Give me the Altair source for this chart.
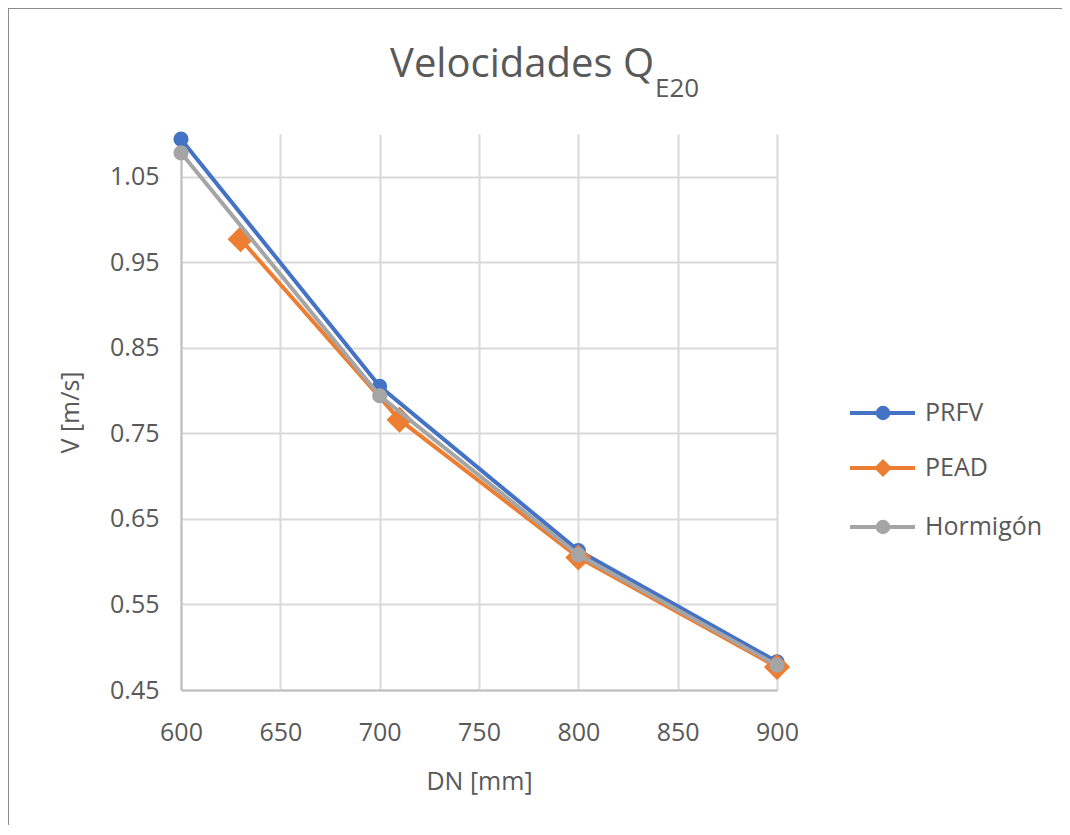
import altair as alt
import pandas as pd

# ---- data ----
series = ["PRFV", "PEAD", "Hormigón"]
colors = ["#4472C4", "#ED7D31", "#A5A5A5"]
shapes = ["circle", "diamond", "circle"]
sizes = [230, 680, 230]
legend_sizes = [210, 320, 210]

dn_prfv = [600, 700, 800, 900]
v_prfv = [1.094, 0.805, 0.613, 0.483]
dn_pead = [630, 710, 800, 900]
v_pead = [0.977, 0.766, 0.605, 0.477]
dn_horm = [600, 700, 800, 900]
v_horm = [1.078, 0.794, 0.608, 0.479]

x_ticks = [600, 650, 700, 750, 800, 850, 900]
y_ticks = [0.45, 0.55, 0.65, 0.75, 0.85, 0.95, 1.05]

title_main = "Velocidades Q"
title_sub = "E20"
x_title = "DN [mm]"
y_title = "V [m/s]"

FONT = "Open Sans"
TXT = "#595959"

frames = {
    "PRFV": pd.DataFrame({"DN": dn_prfv, "V": v_prfv, "serie": "PRFV"}),
    "PEAD": pd.DataFrame({"DN": dn_pead, "V": v_pead, "serie": "PEAD"}),
    "Hormigón": pd.DataFrame({"DN": dn_horm, "V": v_horm, "serie": "Hormigón"}),
}

x_enc = alt.X("DN:Q", scale=alt.Scale(domain=[600, 900], nice=False, zero=False),
              axis=alt.Axis(values=x_ticks, title=x_title, format="d", labelFlush=False,
                            labelPadding=30, titlePadding=24))
y_enc = alt.Y("V:Q", scale=alt.Scale(domain=[0.45, 1.1], nice=False, zero=False),
              axis=alt.Axis(values=y_ticks, title=y_title, format=".2f", labelFlush=False,
                            labelPadding=22, titlePadding=26))

W, H = 596, 556
PL, PT = 173, 126

layers = []
# border around the whole chart area
border_df = pd.DataFrame({"k": [0]})
layers.append(
    alt.Chart(border_df).mark_rect(fill=None, stroke="#8c8c8c", strokeWidth=2).encode(
        x=alt.value(-PL), x2=alt.value(W + 400), y=alt.value(-PT), y2=alt.value(H + 400)
    )
)

for s, c, sh, sz in zip(series, colors, shapes, sizes):
    base = alt.Chart(frames[s]).encode(x=x_enc, y=y_enc)
    layers.append(base.mark_line(color=c, strokeWidth=4))
    layers.append(base.mark_point(color=c, shape=sh, filled=True, size=sz, opacity=1))

# legend (manual, line + marker)
leg_y = [279, 334, 393]
leg_df = pd.DataFrame({"serie": series})
for s, c, sh, sz, yy in zip(series, colors, shapes, legend_sizes, leg_y):
    d = leg_df[leg_df["serie"] == s]
    layers.append(alt.Chart(d).mark_rule(color=c, strokeWidth=4).encode(
        x=alt.value(669), x2=alt.value(734), y=alt.value(yy)))
    layers.append(alt.Chart(d).mark_point(color=c, shape=sh, filled=True, opacity=1,
                                          size=sz).encode(
        x=alt.value(702), y=alt.value(yy)))
    layers.append(alt.Chart(d).mark_text(align="left", baseline="middle", font=FONT,
                                         fontSize=25, color=TXT).encode(
        x=alt.value(744), y=alt.value(yy), text="serie:N"))

# title with subscript
t_df = pd.DataFrame({"main": [title_main], "sub": [title_sub]})
layers.append(alt.Chart(t_df).mark_text(align="right", baseline="alphabetic", font=FONT,
                                        fontSize=40, color=TXT).encode(
    x=alt.value(473), y=alt.value(-57), text="main:N"))
layers.append(alt.Chart(t_df).mark_text(align="left", baseline="alphabetic", font=FONT,
                                        fontSize=26, color=TXT).encode(
    x=alt.value(474), y=alt.value(-37), text="sub:N"))

chart = alt.layer(*layers).properties(
    width=W, height=H,
    autosize=alt.AutoSizeParams(type="none"),
    padding={"left": PL, "top": PT, "right": 285, "bottom": 135},
    background="white",
).configure_view(stroke=None).configure_axis(
    labelFont=FONT, labelFontSize=25, labelColor=TXT,
    titleFont=FONT, titleFontSize=25, titleColor=TXT, titleFontWeight="normal",
    ticks=False, domainColor="#bfbfbf", domainWidth=2,
    gridColor="#d9d9d9", gridWidth=2,
)

chart.save("out.html", embed_options={"renderer": "svg", "actions": False})
